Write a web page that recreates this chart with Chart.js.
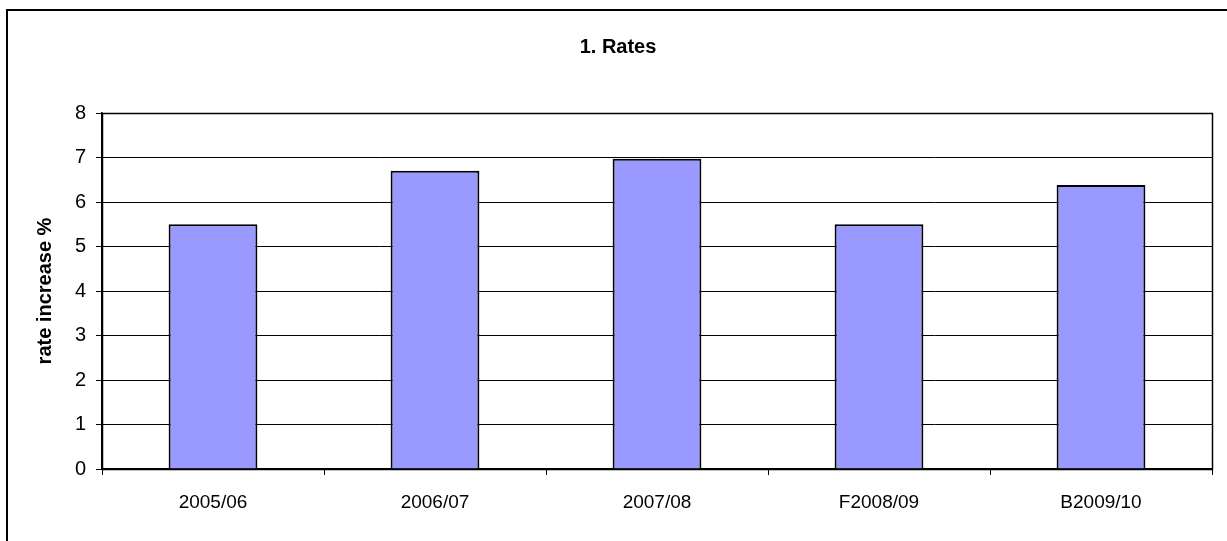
<!DOCTYPE html>
<html>
<head>
<meta charset="utf-8">
<script src="https://cdn.jsdelivr.net/npm/chart.js@4.4.1/dist/chart.umd.min.js"></script>
<style>
  html, body { margin: 0; padding: 0; background: #ffffff; }
  #wrap { width: 1227px; height: 541px; }
</style>
</head>
<body>
<div id="wrap"><canvas id="c" width="1227" height="541"></canvas></div>
<script>
const categories = ["2005/06", "2006/07", "2007/08", "F2008/09", "B2009/10"];
const rateIncrease = [5.5, 6.7, 6.97, 5.5, 6.38];
const yTicks = [0, 1, 2, 3, 4, 5, 6, 7, 8];
const chartTitle = "1. Rates";
const yAxisTitle = "rate increase %";

const frame = {
  id: 'frame',
  afterDraw(chart) {
    const ctx = chart.ctx;
    const a = chart.chartArea;
    ctx.save();
    ctx.strokeStyle = '#000000';
    ctx.lineWidth = 1.5;
    ctx.strokeRect(Math.round(a.left) + 0.5, Math.round(a.top) + 0.5,
      Math.round(a.right - a.left), Math.round(a.bottom - a.top));
    ctx.lineWidth = 2;
    ctx.strokeRect(7, 10, 1400, 700);
    ctx.restore();
  }
};

new Chart(document.getElementById('c'), {
  type: 'bar',
  data: {
    labels: categories,
    datasets: [{
      data: rateIncrease,
      backgroundColor: '#9999FF',
      borderColor: '#000000',
      borderWidth: 2,
      barPercentage: 0.4,
      categoryPercentage: 1.0
    }]
  },
  options: {
    responsive: false,
    animation: false,
    layout: { padding: { left: 24, right: 15, top: 0, bottom: 0 } },
    plugins: {
      legend: { display: false },
      tooltip: { enabled: false },
      title: {
        display: true,
        text: chartTitle,
        color: '#000000',
        font: { family: 'Liberation Sans, Arial, sans-serif', size: 20, weight: 'bold', lineHeight: 1.2 },
        padding: { top: 35, bottom: 54 }
      }
    },
    scales: {
      x: {
        grid: { display: true, drawOnChartArea: false, drawTicks: true, tickLength: 6, color: '#000000', offset: true },
        border: { display: true, color: '#000000', width: 1.5 },
        ticks: {
          color: '#000000',
          padding: 16,
          maxRotation: 0,
          font: { family: 'Liberation Sans, Arial, sans-serif', size: 19 }
        },
        afterFit(scale) { scale.height = 72; }
      },
      y: {
        min: 0,
        max: 8,
        afterBuildTicks(scale) { scale.ticks = yTicks.map(v => ({ value: v })); },
        grid: { color: '#000000', lineWidth: 1, drawTicks: true, tickLength: 6 },
        border: { display: true, color: '#000000', width: 1.5 },
        ticks: {
          color: '#000000',
          padding: 10,
          font: { family: 'Liberation Sans, Arial, sans-serif', size: 20 }
        },
        title: {
          display: true,
          text: yAxisTitle,
          color: '#000000',
          font: { family: 'Liberation Sans, Arial, sans-serif', size: 20, weight: 'bold', lineHeight: 1.2 },
          padding: { top: 9, bottom: 0 }
        },
        afterFit(scale) { scale.width = 78; }
      }
    }
  },
  plugins: [frame]
});
</script>
</body>
</html>
